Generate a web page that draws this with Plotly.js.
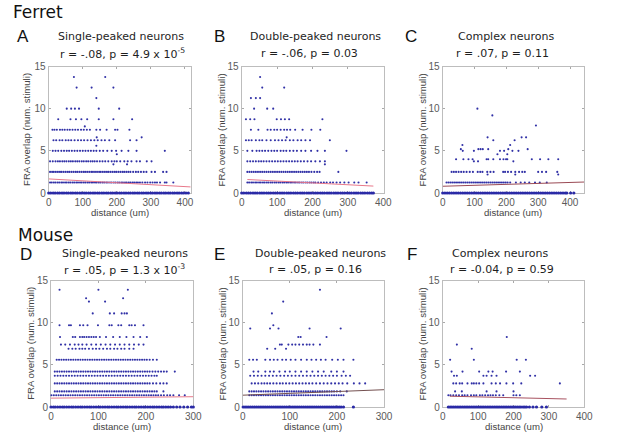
<!DOCTYPE html>
<html>
<head>
<meta charset="utf-8">
<script src="https://cdn.plot.ly/plotly-3.0.1.min.js"></script>
<style>html,body{margin:0;padding:0;background:#fff;}#chart{width:617px;height:443px;}</style>
</head>
<body>
<div id="chart"></div>
<script>
// ---------------- DATA ----------------
const speciesLabels = ["Ferret", "Mouse"];
const panelLetters = ["A", "B", "C", "D", "E", "F"];
const panelTitles = ["Single-peaked neurons", "Double-peaked neurons", "Complex neurons",
                     "Single-peaked neurons", "Double-peaked neurons", "Complex neurons"];
const panelStats = ["r = -.08, p = 4.9 x 10<sup>-5</sup>", "r = -.06, p = 0.03", "r = .07, p = 0.11",
                    "r = .05, p = 1.3 x 10<sup>-3</sup>", "r = .05, p = 0.16", "r = -0.04, p = 0.59"];
const xAxisTitle = "distance (um)";
const yAxisTitle = "FRA overlap (num. stimuli)";
const yTicks = [0, 5, 10, 15];
const xTicksFerret = [0, 100, 200, 300, 400];
const xTicksMouse = [0, 100, 200, 300];
const xTicksMouseComplex = [0, 100, 200, 300, 400];

// Panel A: ferret, single-peaked
const aLevels = [0, 1.25, 2.5, 3.4, 3.75, 4.6, 5, 5.6, 6.25, 6.6, 7.5, 7.9, 8.75, 10, 11.25, 12.5, 13.75];
const aX = [
  [0,6,13,19,26,32,39,45,52,58,65,71,78,84,91,97,104,110,117,123,130,136,143,149,156,162,169,175,182,188,195,201,208,214,221,227,234,240,247,253,260,266,273,279,286,292,299,305,312,318,325,331,338,344,351,357,364,370,377,383,390,396,403,410],
  [4,9,15,20,26,31,37,42,48,53,59,64,70,75,81,86,92,97,103,108,114,119,125,130,136,141,147,152,158,163,169,174,180,185,191,196,202,207,213,218,224,229,235,240,246,251,257,262,268,275,283,290,298,305,312,318,327,341,346,366],
  [4,10,15,21,27,33,38,44,50,56,61,67,73,79,84,90,96,102,107,113,119,125,130,136,142,148,153,159,165,171,176,182,188,194,199,205,211,217,222,228,234,240,248,256,263,271,279,287,302,312,336,346],
  [190,230],
  [4,12,20,27,33,40,46,52,59,65,71,78,84,90,97,103,110,116,123,129,135,142,150,158,166,175,185,193,200,210,222,232,243,258,268,288,302],
  [200],
  [12,20,28,37,45,53,60,68,76,84,92,100,108,116,124,132,140,150,160,172,185,198,214,234,258,341],
  [140],
  [14,22,32,40,50,58,66,76,86,95,104,114,124,134,144,155,165,178,195,239,258],
  [141,273],
  [11,17,24,33,40,47,55,62,70,78,86,95,103,112,121,140,151,170,195,202,237],
  [106],
  [28,64,80,96,113,147,190,245],
  [53,66,77,89,147,207],
  [140],
  [82,126,190],
  [74,166]
];
const aFitX = [0, 417];
const aFitY = [1.67, 0.72];

// Panel B: ferret, double-peaked
const bLevels = [0, 1.25, 2.5, 3.4, 3.75, 5, 6.25, 6.6, 7.5, 8.75, 10, 11.25, 12.5, 13.75];
const bX = [
  [0,6,13,19,25,32,38,44,51,57,63,70,76,82,89,95,101,108,114,120,127,133,139,146,152,158,165,171,177,184,190,196,203,209,215,222,228,234,241,247,253,260,266,272,279,285,291,298,304,310,317,323,329,336,342,348,355,361,367,372],
  [16,21,27,32,38,43,49,54,60,65,71,76,82,87,93,98,104,109,115,120,126,131,137,142,148,153,159,164,170,175,181,186,192,197,203,208,216,224,232,240,250,258,268,278,290,302,318,330,353],
  [16,22,28,34,40,46,52,58,64,70,76,82,88,94,100,106,112,118,124,130,136,142,148,154,160,166,172,178,184,190,197,205,213,220,273],
  [235],
  [16,24,32,40,48,55,62,70,78,86,94,102,110,118,126,134,142,150,158,167,176,186,196,208,221,235],
  [16,30,42,50,58,66,75,84,92,100,110,118,126,136,146,156,168,180,196,214,235,296],
  [12,20,28,40,50,58,70,82,94,104,114,124,136,146,158,168,180,193,249],
  [127],
  [26,47,73,82,92,100,110,120,128,137,151,172,197,222],
  [12,24,36,99,111,122,134,228],
  [35,72,89],
  [26,40,52],
  [58,120],
  [52]
];
const bFitX = [16, 372];
const bFitY = [1.6, 0.82];

// Panel C: ferret, complex
const cLevels = [0, 1.25, 2.2, 2.5, 3.75, 4, 4.6, 5, 5.2, 5.7, 6.25, 6.6, 8, 9.2, 10];
const cX = [
  [0,7,14,21,28,35,42,49,56,63,70,77,84,91,98,105,112,119,126,133,140,147,154,161,168,175,182,189,196,203,210,217,224,231,238,245,252,259,266,273,280,287,294,301,308,315,322,329,336,343,350,357,364,371,378,385,390,402,412],
  [12,18,24,30,36,42,48,54,60,66,72,78,84,90,96,102,108,114,120,126,132,138,144,150,156,162,168,174,180,186,192,198,204,212,230,245,258,272,290,305,327],
  [141,228,363],
  [28,35,42,50,58,66,75,85,95,110,118,125,140,150,160,190,196,205,215,228,240,250,258,300,312,325,360],
  [98,111,222],
  [42,65,81,94,138,143,159,180,191,199,203,280,306,332,363],
  [172,203],
  [63,98,180,193,219,238],
  [57,112,119,126,143,206,267],
  [62,212],
  [159,226],
  [141,248,262],
  [293],
  [156],
  [109]
];
const cFitX = [0, 444];
const cFitY = [0.8, 1.3];

// Panel D: mouse, single-peaked
const dLevels = [0, 1.4, 1.85, 2.8, 3.7, 4.2, 5.6, 6.9, 7.4, 8.3, 9.7, 11.1, 12.5, 12.9, 13.9];
const dX = [
  [0,5,9,14,19,24,28,33,38,43,47,52,57,62,66,71,76,81,85,90,95,100,104,109,114,119,123,128,133,138,142,147,152,157,161,166,171,176,180,185,190,195,199,204,209,214,218,223,228,233,237,242,247,252,258,265,272,280,288,296,300],
  [1,6,11,16,21,26,31,36,41,46,51,56,61,66,71,76,81,86,91,96,101,106,111,116,121,126,131,136,141,146,151,156,161,166,171,176,181,186,191,196,201,206,211,216,221,226,232,238,245,251,258,270,282],
  [8,13,18,23,28,33,38,43,48,53,58,63,68,73,78,83,88,93,98,103,108,113,118,123,128,133,138,143,148,153,158,163,168,173,178,183,188,193,198,203,208,213,218,223,237],
  [8,13,18,23,28,33,38,43,48,53,58,63,68,73,78,83,88,93,98,103,108,113,118,123,128,133,138,143,148,153,158,163,168,173,178,183,188,193,198,203,208,215,222,230,237,244],
  [8,14,20,26,32,38,44,50,56,62,68,74,80,86,92,98,104,110,116,122,128,134,140,146,152,158,164,170,176,182,188,194,200,206,212,218,223],
  [8,13,18,23,28,33,38,43,48,53,58,63,68,73,78,83,88,93,98,103,108,113,118,123,128,133,138,143,148,153,158,163,168,173,178,183,188,193,198,203,208,214,220,226,232,238,244,261],
  [12,17,22,27,32,37,42,47,52,57,62,67,72,77,82,87,92,97,102,107,112,117,122,127,132,137,142,147,152,157,162,167,172,177,182,187,192,197,202,208,215,223],
  [37,45,52,60,66,72,80,88,95,102,110,118,125,133,140,148,155,165,174],
  [21,30,40,50,58,66,75,85,95,105,115,125,135,145,155,165,175,185,195],
  [19,46,51,61,66,70,75,80,85,90,95,103,116,131,145,159,174,188,202],
  [18,38,42,61,68,77,99,123,128,142,148,165,170,177,195],
  [88,124,133,149,155,160],
  [80,114],
  [74,152],
  [18,100,162]
];
const dFitX = [0, 300];
const dFitY = [1.05, 1.22];

// Panel E: mouse, double-peaked
const eLevels = [0, 1.4, 1.85, 2.8, 3.7, 4.2, 5.6, 6.9, 7.4, 8.3, 9.3, 9.7, 11.1, 12.5, 13.9];
const eX = [
  [1,5,9,13,17,21,25,29,33,37,41,45,49,53,57,61,65,69,73,77,81,85,89,93,97,101,105,109,113,117,121,125,129,133,137,141,145,149,153,157,161,165,169,173,177,181,185,189,193,197,201,205,209,214,235],
  [14,19,24,29,34,39,44,49,54,59,64,69,74,79,84,89,94,99,104,109,114,119,124,129,134,139,144,149,154,159,164,169,174,179,184,189,194,199,204,209,214],
  [14,19,24,29,34,39,44,49,54,59,64,69,74,79,84,89,94,99,104,109,114,119,124,129,134,139,144,149,154,159,164,169,174,179,184,189,194,200,207,221],
  [19,26,33,40,46,52,58,65,72,79,85,92,99,106,113,120,127,134,141,148,156,164,172,180,188,196,204,212,222,236,248,260],
  [16,24,32,40,48,56,64,72,80,88,96,104,112,120,128,136,144,152,160,168,176,184,192,200,210,219,228],
  [23,33,48,58,66,78,90,100,112,124,136,148,160,172,188,200,214],
  [14,22,30,48,58,66,74,84,92,102,112,124,136,146,156,166,176,190,202,214,235],
  [52,69,92],
  [79,83,97,105,112,120,128,136,142,150,164],
  [118,123,178],
  [16,58,76,142,208],
  [65],
  [62],
  [86],
  [164]
];
const eFitX = [0, 300];
const eFitY = [1.4, 2.05];

// Panel F: mouse, complex
const fLevels = [0, 1.4, 1.85, 2.8, 3.7, 4.2, 5.6, 6.9, 7.4, 8.3];
const fX = [
  [16,21,26,31,36,41,46,51,56,61,66,71,76,81,86,91,96,101,106,111,116,121,126,131,136,141,146,151,156,161,166,171,176,181,186,191,196,201,206,211,216,221,227,232,237,245,255,265,280,293],
  [16,22,30,38,46,55,62,70,80,88,95,105,112,120,128,135,142,150,160,171,200,208,218],
  [35,54,124,152,200],
  [30,38,48,55,70,82,88,95,103,115,138,150,162,180,199,222,331],
  [32,40,115,124,138,152,247,261],
  [25,56,103,129,141,179,218],
  [21,88,209,235],
  [82],
  [40],
  [181]
];
const fFitX = [20, 350];
const fFitY = [1.28, 0.95];

const xRanges = [[0, 417], [0, 402], [0, 444], [0, 300], [0, 300], [0, 400]];

// ---------------- LAYOUT / DRAWING ----------------
const W = 617, H = 443;
const fx = p => p / W;
const fy = p => 1 - p / H;

// plot boxes in pixels: [left, right, top, bottom]
const boxes = [
  [48.7, 190.7, 66.5, 193], [241.7, 384, 66.5, 193], [442.7, 584, 66.5, 193],
  [51, 193.3, 280.5, 407], [242.7, 384, 280.5, 407], [442.7, 584.3, 280.5, 407]
];
const levelsAll = [aLevels, bLevels, cLevels, dLevels, eLevels, fLevels];
const xsAll = [aX, bX, cX, dX, eX, fX];
const fitXAll = [aFitX, bFitX, cFitX, dFitX, eFitX, fFitX];
const fitYAll = [aFitY, bFitY, cFitY, dFitY, eFitY, fFitY];
const fitColors = ["#e8788a", "#e8788a", "#9a4a54", "#e8788a", "#745050", "#a85260"];
const xTicksAll = [xTicksFerret, xTicksFerret, xTicksFerret, xTicksMouse, xTicksMouse, xTicksMouseComplex];

const traces = [];
const layout = {
  width: W, height: H,
  margin: {l: 0, r: 0, t: 0, b: 0},
  paper_bgcolor: "#fff", plot_bgcolor: "#fff",
  showlegend: false,
  font: {family: "Liberation Sans, Arial, sans-serif", size: 10, color: "#555"},
  annotations: []
};

for (let i = 0; i < 6; i++) {
  const sfx = i === 0 ? "" : String(i + 1);
  const xsZero = [], ysZero = [], xs = [], ys = [];
  levelsAll[i].forEach((lv, k) => xsAll[i][k].forEach(v => {
    if (lv === 0) { xsZero.push(v); ysZero.push(lv); } else { xs.push(v); ys.push(lv); }
  }));
  // zero row: many overlapping points in the original, drawn as a thicker band
  traces.push({
    type: "scatter", mode: "markers", x: xsZero, y: ysZero,
    xaxis: "x" + sfx, yaxis: "y" + sfx, cliponaxis: false, hoverinfo: "skip",
    marker: {size: 3.2, color: "#2a2aa6", line: {width: 0}}
  });
  traces.push({
    type: "scatter", mode: "markers", x: xs, y: ys,
    xaxis: "x" + sfx, yaxis: "y" + sfx, cliponaxis: false, hoverinfo: "skip",
    marker: {size: 2.1, color: "#3030a6", line: {width: 0}}
  });
  traces.push({
    type: "scatter", mode: "lines", x: fitXAll[i], y: fitYAll[i],
    xaxis: "x" + sfx, yaxis: "y" + sfx, hoverinfo: "skip",
    line: {color: fitColors[i], width: 1}
  });
  const b = boxes[i];
  const common = {
    showline: true, linecolor: "#bdbdbd", linewidth: 1, mirror: "ticks",
    ticks: "inside", ticklen: 2, tickcolor: "#a8a8a8", tickwidth: 1,
    showgrid: false, zeroline: false, fixedrange: true, layer: "below traces",
    tickfont: {family: "Liberation Sans, Arial, sans-serif", size: 10, color: "#5a5a5a"}
  };
  layout["xaxis" + sfx] = Object.assign({}, common, {
    domain: [fx(b[0]), fx(b[1])], range: xRanges[i], anchor: "y" + sfx,
    tickmode: "array", tickvals: xTicksAll[i], ticktext: xTicksAll[i].map(String)
  });
  layout["yaxis" + sfx] = Object.assign({}, common, {
    domain: [fy(b[3]), fy(b[2])], range: [0, 15], anchor: "x" + sfx,
    tickmode: "array", tickvals: yTicks, ticktext: yTicks.map(String)
  });
  // axis titles
  layout.annotations.push({
    xref: "paper", yref: "paper", x: fx(b[0] - (i === 0 ? 21.5 : 20)), y: fy((b[2] + b[3]) / 2),
    xanchor: "center", yanchor: "middle", textangle: -90, showarrow: false,
    text: yAxisTitle, font: {family: "Liberation Sans, Arial, sans-serif", size: 9.6, color: "#444"}
  });
  layout.annotations.push({
    xref: "paper", yref: "paper", x: fx((b[0] + b[1]) / 2), y: fy(b[3] + 19),
    xanchor: "center", yanchor: "middle", showarrow: false,
    text: xAxisTitle, font: {family: "Liberation Sans, Arial, sans-serif", size: 9.6, color: "#444"}
  });
}

// titles (pixel positions)
const titleX1 = [121, 315.5, 506, 125, 320, 500];
const titleX2 = [122.5, 309, 502, 124, 315, 502];
const letterX = [15, 212, 403, 18, 212, 405];
const rowTitleY1 = [36, 36, 36, 253.5, 253.5, 253.5];
const rowTitleY2 = [53, 53, 53, 269, 269, 269];
const letterY = [36.5, 36.5, 36.5, 254.5, 254.5, 254.5];
for (let i = 0; i < 6; i++) {
  layout.annotations.push({
    xref: "paper", yref: "paper", x: fx(titleX1[i]), y: fy(rowTitleY1[i]),
    xanchor: "center", yanchor: "middle", showarrow: false, text: panelTitles[i],
    font: {family: "DejaVu Sans, Verdana, sans-serif", size: 11, color: "#1e1e1e"}
  });
  layout.annotations.push({
    xref: "paper", yref: "paper", x: fx(titleX2[i]), y: fy(rowTitleY2[i]),
    xanchor: "center", yanchor: "middle", showarrow: false, text: panelStats[i],
    font: {family: "DejaVu Sans, Verdana, sans-serif", size: 11, color: "#1e1e1e"}
  });
  layout.annotations.push({
    xref: "paper", yref: "paper", x: fx(letterX[i]), y: fy(letterY[i]),
    xanchor: "left", yanchor: "middle", showarrow: false, text: panelLetters[i],
    font: {family: "Liberation Sans, Arial, sans-serif", size: 17, color: "#111"}
  });
}
const speciesX = [11, 16];
const speciesY = [12, 235];
for (let s = 0; s < 2; s++) {
  layout.annotations.push({
    xref: "paper", yref: "paper", x: fx(speciesX[s]), y: fy(speciesY[s]),
    xanchor: "left", yanchor: "middle", showarrow: false, text: speciesLabels[s],
    font: {family: "DejaVu Sans, Verdana, sans-serif", size: 17, color: "#111"}
  });
}

Plotly.newPlot("chart", traces, layout, {staticPlot: true, displayModeBar: false});
</script>
</body>
</html>
